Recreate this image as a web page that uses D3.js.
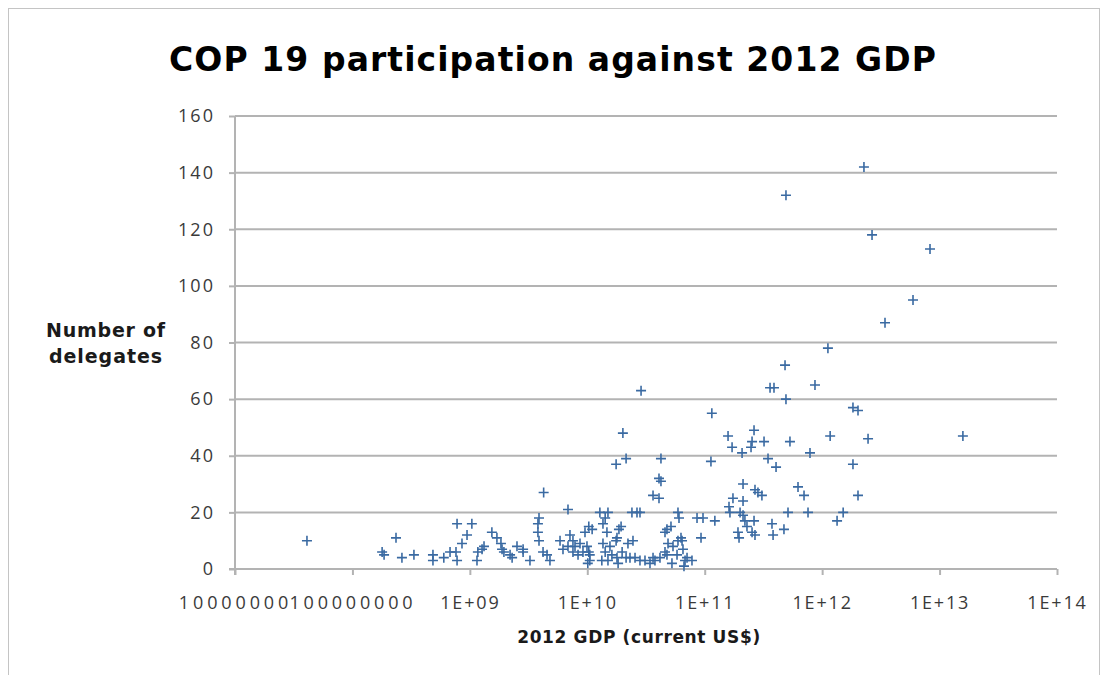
<!DOCTYPE html>
<html>
<head>
<meta charset="utf-8">
<script src="https://cdn.jsdelivr.net/npm/d3@7"></script>
<style>
  html, body { margin: 0; padding: 0; background: #ffffff; }
  svg { display: block; }
</style>
</head>
<body>
<svg id="chart" width="1105" height="675"></svg>
<script>
// ---- Data ----
const gdp = [
  4.1e7, 1.79e8, 1.86e8, 2.35e8, 2.64e8, 3.34e8, 4.85e8, 4.85e8, 6.0e8,
  6.78e8, 7.62e8, 7.78e8, 7.78e8, 8.57e8, 9.46e8, 1.04e9, 1.15e9, 1.17e9, 1.27e9,
  1.32e9, 1.54e9, 1.70e9, 1.84e9, 1.88e9, 1.95e9, 2.20e9, 2.29e9, 2.52e9, 2.84e9,
  2.84e9, 3.25e9, 3.80e9, 3.88e9, 3.80e9, 3.88e9, 4.25e9, 4.20e9, 4.54e9, 4.81e9,
  6.85e9, 1.28e10, 1.50e10, 1.42e10, 1.36e10, 1.03e10, 1.10e10, 9.56e9, 1.94e10, 1.86e10,
  1.79e10, 1.76e10, 1.47e10, 2.40e10, 2.65e10, 2.81e10, 2.45e10, 2.22e10, 5.92e10, 6.04e10,
  8.60e10, 9.67e10, 1.22e11, 9.30e10, 4.59e10, 4.77e10, 5.16e10, 6.28e10, 6.41e10, 5.92e10,
  4.87e10, 5.86e9, 7.12e9, 7.55e9, 6.21e9, 6.85e9, 7.86e9, 8.67e9, 7.55e9, 8.34e9,
  9.19e9, 9.94e9, 1.03e10, 1.05e10, 1.05e10, 1.01e10, 1.36e10, 1.42e10, 1.56e10, 1.62e10,
  1.33e10, 1.50e10, 1.79e10, 1.83e10, 1.98e10, 2.14e10, 2.31e10, 2.55e10, 2.81e10, 3.10e10,
  3.42e10, 3.63e10, 3.77e10, 4.16e10, 4.59e10, 4.77e10, 5.26e10, 5.37e10, 5.81e10, 6.53e10,
  6.80e10, 7.07e10, 7.79e10, 6.66e10,
  2.87e10, 2.01e10, 2.14e10, 1.76e10, 4.24e10, 4.08e10, 4.24e10, 3.63e10, 4.08e10,
  2.27e12, 4.92e11, 2.66e12, 8.29e12, 5.94e12, 3.43e12, 1.12e12, 4.83e11, 3.60e11, 3.89e11,
  8.69e11, 4.92e11, 1.83e12, 2.02e12, 1.15e11, 2.63e11, 1.58e11, 2.53e11, 3.20e11, 5.32e11,
  1.17e12, 2.46e12, 1.58e13, 1.71e11, 2.08e11, 2.48e11, 7.88e11, 1.13e11, 3.46e11, 4.05e11,
  1.83e12, 2.12e11, 2.68e11, 2.84e11, 3.07e11, 6.23e11, 7.01e11, 2.02e12, 1.74e11, 2.12e11,
  1.61e11, 1.64e11, 2.00e11, 2.12e11, 5.12e11, 7.58e11, 1.51e12, 1.34e12, 2.20e11, 2.63e11,
  3.74e11, 2.29e11, 1.92e11, 2.53e11, 2.68e11, 4.73e11, 1.96e11, 3.82e11
];
const delegates = [
  10, 6, 5, 11, 4, 5, 5, 3, 4,
  6, 6, 16, 3, 9, 12, 16, 3, 6, 7,
  8, 13, 11, 9, 7, 6, 5, 4, 8, 7,
  6, 3, 16, 18, 13, 10, 27, 6, 5, 3,
  21, 20, 20, 18, 16, 15, 14, 13, 15, 14,
  11, 10, 13, 20, 20, 20, 10, 9, 20, 18,
  18, 18, 17, 11, 13, 14, 15, 11, 10, 10,
  9, 10, 12, 10, 7, 8, 8, 9, 6, 5,
  6, 8, 6, 5, 3, 2, 9, 6, 8, 5,
  3, 3, 4, 2, 6, 4, 4, 4, 3, 3,
  2, 4, 3, 4, 6, 5, 2, 8, 5, 7,
  3, 4, 3, 1,
  63, 48, 39, 37, 39, 32, 31, 26, 25,
  142, 132, 118, 113, 95, 87, 78, 72, 64, 64,
  65, 60, 57, 56, 55, 49, 47, 45, 45, 45,
  47, 46, 47, 43, 41, 43, 41, 38, 39, 36,
  37, 30, 28, 27, 26, 29, 26, 26, 25, 24,
  22, 20, 20, 19, 20, 20, 20, 17, 17, 17,
  16, 15, 13, 13, 12, 14, 11, 12
];
const xTickValues = [1e7, 1e8, 1e9, 1e10, 1e11, 1e12, 1e13, 1e14];
const xTickLabels = ["10000000", "100000000", "1E+09", "1E+10", "1E+11", "1E+12", "1E+13", "1E+14"];
const yTickValues = [0, 20, 40, 60, 80, 100, 120, 140, 160];
const titleText = "COP 19 participation against 2012 GDP";
const xTitle = "2012 GDP (current US$)";
const yTitleLines = ["Number of", "delegates"];

const points = gdp.map((g, i) => ({ g: g, d: delegates[i] }));

// ---- Layout ----
const svg = d3.select("#chart");
const plotLeft = 235, plotRight = 1057, plotTop = 116, plotBottom = 569;
const FONT = "'Open Sans', 'DejaVu Sans', sans-serif";
const BOLD = "'DejaVu Sans', 'Open Sans', sans-serif";
const gridColor = "#b3b3b3";
const markColor = "#3a6aa2";

const x = d3.scaleLog().domain([1e7, 1e14]).range([plotLeft, plotRight]);
const y = d3.scaleLinear().domain([0, 160]).range([plotBottom, plotTop]);

// frame
svg.append("rect")
  .attr("x", 8.5).attr("y", 8.5).attr("width", 1091).attr("height", 720)
  .attr("fill", "none").attr("stroke", "#c4c4c4").attr("stroke-width", 1);

function fitWidth(sel, target) {
  sel.each(function () {
    const n = this.textContent.length;
    const len = this.getComputedTextLength();
    const ls = (target - len) / Math.max(1, n - 1);
    d3.select(this).attr("letter-spacing", ls.toFixed(2));
  });
}

// gridlines
svg.append("g")
  .selectAll("line")
  .data(yTickValues.filter(v => v > 0))
  .join("line")
  .attr("x1", plotLeft).attr("x2", plotRight)
  .attr("y1", d => y(d)).attr("y2", d => y(d))
  .attr("stroke", gridColor).attr("stroke-width", 2);

// y axis
const yAxis = svg.append("g")
  .attr("transform", `translate(${plotLeft},0)`)
  .call(d3.axisLeft(y).tickValues(yTickValues).tickSize(6).tickPadding(14).tickFormat(d3.format("d")));
yAxis.select(".domain").remove();
yAxis.append("line").attr("x1", 0).attr("x2", 0).attr("y1", plotTop).attr("y2", plotBottom + 6)
  .attr("stroke", gridColor).attr("stroke-width", 2);
yAxis.selectAll(".tick line").attr("stroke", gridColor).attr("stroke-width", 2);
yAxis.selectAll(".tick text")
  .attr("font-family", FONT).attr("font-size", 18).attr("fill", "#3a3a3a");

// x axis
const xAxis = svg.append("g")
  .attr("transform", `translate(0,${plotBottom})`)
  .call(d3.axisBottom(x).tickValues(xTickValues).tickSize(6).tickPadding(21)
    .tickFormat((d, i) => xTickLabels[i]));
xAxis.select(".domain").remove();
xAxis.append("line").attr("x1", plotLeft - 6).attr("x2", plotRight).attr("y1", 0).attr("y2", 0)
  .attr("stroke", gridColor).attr("stroke-width", 2);
xAxis.selectAll(".tick line").attr("stroke", gridColor).attr("stroke-width", 2);
xAxis.selectAll(".tick text")
  .attr("font-family", FONT).attr("font-size", 18).attr("fill", "#3a3a3a");

// widen tick label spacing to match the reference's wide face
(function () {
  xAxis.selectAll(".tick text").each(function (d, i) {
    const s = xTickLabels[i];
    const target = /E/.test(s) ? 58.5 : s.length * 13.7;
    fitWidth(d3.select(this), target);
  });
  const ys = yAxis.selectAll(".tick text").filter(d => d === 160).node();
  const ylen = ys.getComputedTextLength();
  const yls = (37 - ylen) / 3;
  yAxis.selectAll(".tick text").attr("letter-spacing", yls.toFixed(2));
})();

// markers
svg.append("g")
  .selectAll("path")
  .data(points)
  .join("path")
  .attr("transform", d => `translate(${x(d.g)},${y(d.d)})`)
  .attr("d", "M-5,0H5M0,-5V5")
  .attr("fill", "none")
  .attr("stroke", markColor)
  .attr("stroke-width", 1.6);

// title
const t = svg.append("text")
  .attr("x", 553).attr("y", 71)
  .attr("text-anchor", "middle")
  .attr("font-family", BOLD).attr("font-weight", 700).attr("font-size", 33)
  .attr("fill", "#000")
  .text(titleText);
fitWidth(t, 767);

// x title
const xt = svg.append("text")
  .attr("x", 639).attr("y", 643)
  .attr("text-anchor", "middle")
  .attr("font-family", BOLD).attr("font-weight", 700).attr("font-size", 17)
  .attr("fill", "#1a1a1a")
  .text(xTitle);
fitWidth(xt, 243);

// y title
const yl = svg.append("g");
yTitleLines.forEach((s, i) => {
  const tt = yl.append("text")
    .attr("x", 106).attr("y", 337 + i * 26)
    .attr("text-anchor", "middle")
    .attr("font-family", BOLD).attr("font-weight", 700).attr("font-size", 19)
    .attr("fill", "#1a1a1a")
    .text(s);
  fitWidth(tt, i === 0 ? 119 : 113);
});
</script>
</body>
</html>
